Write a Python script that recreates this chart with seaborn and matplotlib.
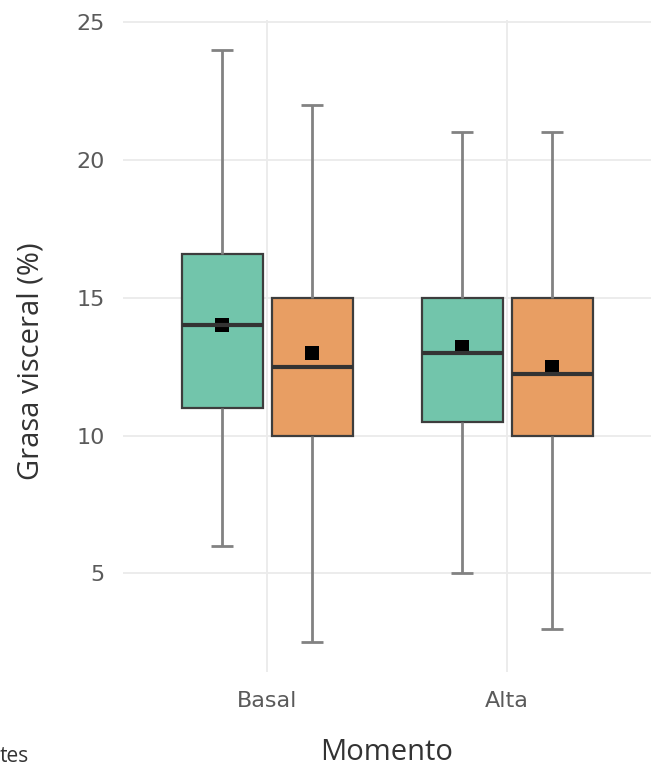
import numpy as np
import pandas as pd
import seaborn as sns
import matplotlib.pyplot as plt

# Categories
momentos = ["Basal", "Alta"]
grupos = ["Grupo 1", "Grupo 2"]

# Box summaries, ordered Basal/Grupo 1, Basal/Grupo 2, Alta/Grupo 1, Alta/Grupo 2
bigote_inf = [6.0, 2.5, 5.0, 3.0]
cuartil_1 = [11.0, 10.0, 10.5, 10.0]
mediana = [14.0, 12.5, 13.0, 12.25]
cuartil_3 = [16.6, 15.0, 15.0, 15.0]
bigote_sup = [24.0, 22.0, 21.0, 21.0]
media = [14.0, 13.0, 13.2, 12.5]

y_ticks = [5, 10, 15, 20, 25]

# Long table: the five summary values per box reproduce its quartiles and range
celdas = [(m, g) for m in momentos for g in grupos]
filas = []
for (m, g), lo, a, b, c, hi in zip(celdas, bigote_inf, cuartil_1, mediana, cuartil_3, bigote_sup):
    for v in (lo, a, b, c, hi):
        filas.append({"Momento": m, "grupo": g, "valor": v})
df = pd.DataFrame(filas)
df_media = pd.DataFrame({"Momento": [c[0] for c in celdas],
                         "grupo": [c[1] for c in celdas],
                         "media": media})

sns.set_theme(style="white")
fig = plt.figure(figsize=(6.6, 7.71), dpi=100)
ax = fig.add_axes([0.1864, 0.1284, 0.80, 0.8456])

palette = ["#72C5AB", "#E89E63"]
color_bigote = "#828282"
sns.boxplot(data=df, x="Momento", y="valor", hue="grupo", order=momentos,
            hue_order=grupos, palette=palette, whis=(0, 100), width=0.75,
            gap=0.1, showfliers=False, showcaps=False,
            linecolor="#3d3d3d", linewidth=1.6,
            medianprops=dict(color="#333333", linewidth=3),
            whiskerprops=dict(color=color_bigote, linewidth=2),
            saturation=1, legend=False, ax=ax)

# Short caps at the far end of each whisker drawn by the boxplot
lineas = list(ax.lines)
for ln in lineas:
    x = np.asarray(ln.get_xdata(), dtype=float).ravel()
    y = np.asarray(ln.get_ydata(), dtype=float).ravel()
    if len(x) == 2 and np.isclose(x[0], x[1]) and not np.isclose(y[0], y[1]):
        ax.plot([x[0] - 0.045, x[0] + 0.045], [y[1], y[1]],
                color=color_bigote, linewidth=2, solid_capstyle="butt", zorder=ln.get_zorder())

sns.pointplot(data=df_media, x="Momento", y="media", hue="grupo", order=momentos,
              hue_order=grupos, palette=["black", "black"], dodge=0.375,
              markers="s", linestyle="none", markersize=9.5,
              markeredgewidth=0, errorbar=None, legend=False, ax=ax)

ax.set_xlim(-0.6, 1.6)
ax.set_ylim(1.425, 25.075)
ax.set_yticks(y_ticks)
ax.set_yticklabels([str(t) for t in y_ticks])
ax.grid(True, color="#ebebeb", linewidth=1.3)
ax.set_axisbelow(True)
for s in ax.spines.values():
    s.set_visible(False)
ax.tick_params(length=0, labelsize=16, labelcolor="#5a5a5a")
ax.tick_params(axis="x", pad=14)
ax.tick_params(axis="y", pad=13)
for lab in ax.get_xticklabels() + ax.get_yticklabels():
    lab.set_family("DejaVu Sans")

ax.set_xlabel("Momento", fontsize=21, color="#333333", family="Open Sans")
ax.set_ylabel("Grasa visceral (%)", fontsize=21, color="#333333", family="Open Sans")
ax.xaxis.set_label_coords(0.5, (1 - 752 / 771 - 0.1284) / 0.8456)
ax.xaxis.label.set_va("center")
ax.yaxis.set_label_coords((31 / 660 - 0.1864) / 0.80, (1 - 361 / 771 - 0.1284) / 0.8456)
ax.yaxis.label.set_va("center")

fig.text(0.0, 1 - 757 / 771, "tes", fontsize=15, color="#333333",
         family="Open Sans", ha="left", va="center")

fig.savefig("out.png", dpi=100)
